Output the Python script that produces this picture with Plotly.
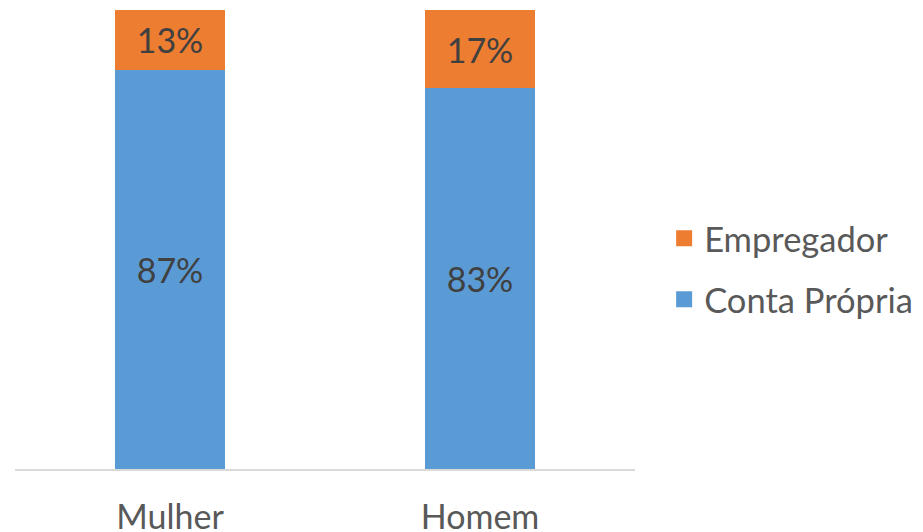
import plotly.graph_objects as go

categories = ["Mulher", "Homem"]
conta_propria = [87, 83]
empregador = [13, 17]
labels_conta = ["87%", "83%"]
labels_emp = ["13%", "17%"]

BLUE = "#5B9BD5"
ORANGE = "#ED7D31"
FONT = "Lato"

fig = go.Figure()
fig.add_trace(go.Bar(
    x=categories, y=conta_propria, name="Conta Própria",
    marker=dict(color=BLUE, line=dict(width=0)),
    text=labels_conta, textposition="inside", insidetextanchor="middle",
    textfont=dict(family=FONT, size=34, color="#404040"),
    constraintext="none", showlegend=False, hoverinfo="skip",
))
fig.add_trace(go.Bar(
    x=categories, y=empregador, name="Empregador",
    marker=dict(color=ORANGE, line=dict(width=0)),
    text=labels_emp, textposition="inside", insidetextanchor="middle",
    textfont=dict(family=FONT, size=34, color="#404040"),
    constraintext="none", showlegend=False, hoverinfo="skip",
))
# legend entries
fig.add_trace(go.Scatter(
    x=[None], y=[None], mode="markers", name="Empregador",
    marker=dict(symbol="square", size=20, color=ORANGE), legendgroup="a",
))
fig.add_trace(go.Scatter(
    x=[None], y=[None], mode="markers", name="Conta Própria",
    marker=dict(symbol="square", size=20, color=BLUE), legendgroup="b",
))

fig.update_layout(
    width=915, height=524,
    barmode="stack", bargap=0.645,
    margin=dict(l=7, r=288, t=2, b=63, autoexpand=False),
    paper_bgcolor="white", plot_bgcolor="white",
    font=dict(family=FONT, color="#595959"),
    showlegend=True,
    legend=dict(
        x=1.047, y=0.436, xanchor="left", yanchor="middle",
        traceorder="grouped", tracegroupgap=13,
        font=dict(family=FONT, size=34.5, color="#595959"),
        itemsizing="trace", bgcolor="rgba(0,0,0,0)",
    ),
    xaxis=dict(
        type="category", showgrid=False, zeroline=False,
        showline=True, linecolor="#D9D9D9", linewidth=1.5,
        ticks="", tickfont=dict(family=FONT, size=34, color="#595959"),
        ticklabelstandoff=17, automargin=False,
    ),
    yaxis=dict(range=[0, 100], autorange=False, visible=False, showgrid=False),
)

fig.write_html("out.html")
